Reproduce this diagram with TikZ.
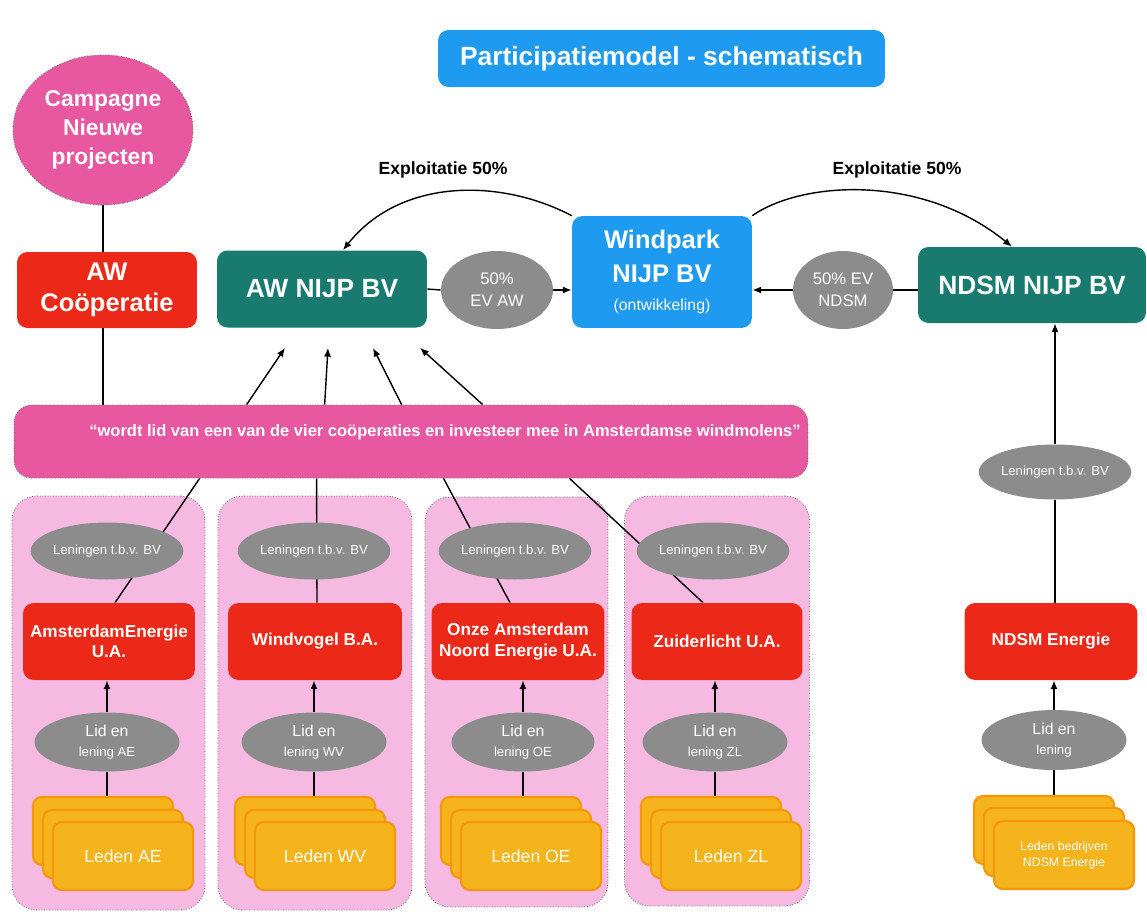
\documentclass[tikz,border=0pt]{standalone}
\usepackage{fontspec}
\setmainfont{Liberation Sans}
\usepackage{tikz}
\usetikzlibrary{arrows.meta}
\usetikzlibrary{calc}
\usetikzlibrary{positioning}
\usetikzlibrary{shapes.geometric}
\usetikzlibrary{backgrounds}

\definecolor{wpblue}{RGB}{30,155,240}
\definecolor{bvteal}{RGB}{25,122,112}
\definecolor{coopred}{RGB}{236,40,25}
\definecolor{campink}{RGB}{232,88,160}
\definecolor{colpink}{RGB}{246,186,226}
\definecolor{ovalgray}{RGB}{140,140,140}
\definecolor{cardfill}{RGB}{246,180,28}
\definecolor{cardedge}{RGB}{246,150,10}

\newcommand{\fs}[2]{\fontsize{#1}{#2}\selectfont}

\tikzset{
  box/.style={rectangle, rounded corners=6pt, text=white, align=center},
  ov/.style={ellipse, fill=ovalgray, text=white, align=center, inner sep=0pt},
  pinkdot/.style={draw=black!55, densely dotted, line width=0.5pt},
  card/.style={rectangle, rounded corners=5pt, fill=cardfill, draw=cardedge,
    line width=1.2pt, minimum width=2.8cm, minimum height=1.36cm,
    text=white, align=center},
  link/.style={line width=0.8pt},
  >={Latex[length=5pt,width=4pt]},
}

% three stacked cards, the front one carries the text
\newcommand{\ledenstapel}[4]{
  \node [card] (#1c) at (#2-20, #3-25) {};
  \node [card] (#1b) at (#2-10, #3-12) {};
  \node [card, font=\fs{10}{12}] (#1) at (#2, #3) {#4};
}

\begin{document}
\begin{tikzpicture}[x=0.02cm, y=-0.02cm]

  \useasboundingbox (0,0) rectangle (1147,917);

  \node [box, fill=wpblue, minimum width=8.94cm, minimum height=1.14cm,
    font=\bfseries\fs{15}{18}] (title) at (661.5,58.5)
    {Participatiemodel - schematisch};

  % top row
  \node [ellipse, pinkdot, fill=campink, text=white, align=center,
    minimum width=3.6cm, minimum height=3cm, inner sep=0pt,
    font=\bfseries\fs{13}{16.5}] (camp) at (103,130) {Campagne\\Nieuwe\\projecten};
  \node [box, fill=coopred, minimum width=3.6cm, minimum height=1.52cm,
    font=\bfseries\fs{14.5}{18}] (awcoop) at (107,290) {AW\\Coöperatie};
  \node [box, fill=bvteal, minimum width=4.2cm, minimum height=1.54cm,
    font=\bfseries\fs{15}{18}] (awbv) at (322,289) {AW NIJP BV};
  \node [ov, minimum width=2.24cm, minimum height=1.56cm,
    font=\fs{9.5}{12.5}] (evaw) at (497,290) {50\%\\EV AW};
  \node [box, fill=wpblue, minimum width=3.6cm, minimum height=2.24cm,
    font=\bfseries\fs{14.5}{19}] (wind) at (662,272)
    {Windpark\\NIJP BV\\[-3pt]{\mdseries\fs{9}{11}(ontwikkeling)}};
  \node [ov, minimum width=2cm, minimum height=1.56cm,
    font=\fs{9.5}{12.5}] (evnd) at (843,290) {50\% EV\\NDSM};
  \node [box, fill=bvteal, minimum width=4.56cm, minimum height=1.52cm,
    font=\bfseries\fs{15}{18}] (ndbv) at (1032,285) {NDSM NIJP BV};

  \node [font=\bfseries\fs{10}{12}] (expaw) at (443,170) {Exploitatie 50\%};
  \node [font=\bfseries\fs{10}{12}] (expnd) at (897,170) {Exploitatie 50\%};

  % bar
  \node [pinkdot, fill=campink, rounded corners=10pt, minimum width=15.88cm,
    minimum height=1.46cm] (bar) at (411,441.5) {};
  \node [text=white, font=\bfseries\fs{9.4}{11}] (bartxt) at (445,432)
    {``wordt lid van een van de vier coöperaties en investeer mee in Amsterdamse windmolens''};

  % columns
  \node [ov, minimum width=2.9cm, minimum height=1.14cm, font=\fs{7.5}{9}] (lnae) at (107,551) {Leningen t.b.v. BV};
  \node [box, fill=coopred, minimum width=3.44cm, minimum height=1.54cm,
    font=\bfseries\fs{9.8}{11.5}] (ae) at (109,641.5) {AmsterdamEnergie\\U.A.};
  \node [ov, minimum width=2.9cm, minimum height=1.18cm, font=\fs{9}{11}] (lidae) at (107,742) {Lid en\\{\fs{7.5}{9}lening AE}};
  \ledenstapel{ledae}{123}{856}{Leden AE}

  \node [ov, minimum width=2.9cm, minimum height=1.14cm, font=\fs{7.5}{9}] (lnwv) at (314,551) {Leningen t.b.v. BV};
  \node [box, fill=coopred, minimum width=3.48cm, minimum height=1.54cm,
    font=\bfseries\fs{9.8}{11.5}] (wv) at (315,641.5) {Windvogel B.A.};
  \node [ov, minimum width=2.9cm, minimum height=1.18cm, font=\fs{9}{11}] (lidwv) at (314,742) {Lid en\\{\fs{7.5}{9}lening WV}};
  \ledenstapel{ledwv}{325}{856}{Leden WV}

  \node [ov, minimum width=2.88cm, minimum height=1.14cm, font=\fs{7.5}{9}] (lnoe) at (515,551) {Leningen t.b.v. BV};
  \node [box, fill=coopred, minimum width=3.46cm, minimum height=1.54cm,
    font=\bfseries\fs{9.8}{11.5}] (oe) at (518,641.5) {Onze Amsterdam\\Noord Energie U.A.};
  \node [ov, minimum width=2.86cm, minimum height=1.18cm, font=\fs{9}{11}] (lidoe) at (523,742) {Lid en\\{\fs{7.5}{9}lening OE}};
  \ledenstapel{ledoe}{531}{856}{Leden OE}

  \node [ov, minimum width=2.8cm, minimum height=1.14cm, font=\fs{7.5}{9}] (lnzl) at (713,551) {Leningen t.b.v. BV};
  \node [box, fill=coopred, minimum width=3.42cm, minimum height=1.54cm,
    font=\bfseries\fs{9.8}{11.5}] (zl) at (717,641.5) {Zuiderlicht U.A.};
  \node [ov, minimum width=2.9cm, minimum height=1.18cm, font=\fs{9}{11}] (lidzl) at (715,742) {Lid en\\{\fs{7.5}{9}lening ZL}};
  \ledenstapel{ledzl}{731}{856}{Leden ZL}

  % right column
  \node [ov, minimum width=2.88cm, minimum height=1.1cm, font=\fs{7.5}{9}] (lnnd) at (1055,472) {Leningen t.b.v. BV};
  \node [box, fill=coopred, minimum width=3.46cm, minimum height=1.54cm,
    font=\bfseries\fs{9.8}{11.5}] (nde) at (1051,641.5) {NDSM Energie};
  \node [ov, minimum width=2.9cm, minimum height=1.2cm, font=\fs{9}{11}] (lidnd) at (1054,740) {Lid en\\{\fs{7.5}{9}lening}};
  \node [card] (lednd c) at (1044,830) {};
  \node [card] (lednd b) at (1054,842) {};
  \node [card, font=\fs{7}{9}] (lednd) at (1064,855) {Leden bedrijven\\NDSM Energie};

  \begin{pgfonlayer}{background}
    \node [pinkdot, fill=colpink, rounded corners=14pt, minimum width=3.86cm,
      minimum height=8.28cm] (colae) at (108.5,703) {};
    \node [pinkdot, fill=colpink, rounded corners=14pt, minimum width=3.88cm,
      minimum height=8.28cm] (colwv) at (315,703) {};
    \node [pinkdot, fill=colpink, rounded corners=14pt, minimum width=3.66cm,
      minimum height=8.2cm] (coloe) at (516.5,702) {};
    \node [pinkdot, fill=colpink, rounded corners=14pt, minimum width=3.7cm,
      minimum height=8.2cm] (colzl) at (717,701) {};

    \draw [link] (camp.south) -- (camp.south |- awcoop.north);
    \draw [link] (awcoop.south -| camp.south) -- (bar.north -| camp.south);

    \draw [link] (awbv.east) -- (evaw.west);
    \draw [link, ->] (evaw.east) -- (evaw.east -| wind.west);
    \draw [link] (evnd.east -| ndbv.west) -- (evnd.east);
    \draw [link, ->] (evnd.west) -- (evnd.west -| wind.east);

    \draw [link, ->] (wind.north west) .. controls (500,178) and (400,178)
      .. ([xshift=0.42cm]awbv.north);
    \draw [link, ->] (wind.north east) .. controls (800,182) and (920,172)
      .. ([xshift=-0.4cm]ndbv.north);

    \foreach \a/\b in {233/-37, 311/6, 388/51, 469/98}
      \draw [link, ->] ([xshift=\a*0.02cm]bar.north west)
        -- ([xshift=\b*0.02cm, yshift=-0.4cm]awbv.south);

    \draw [link] ([xshift=0.12cm]ae.north) -- ([xshift=3.72cm]bar.south west);
    \draw [link] ([xshift=0.04cm]wv.north) -- ([xshift=6.06cm]bar.south west);
    \draw [link] ([xshift=-0.16cm]oe.north) -- ([xshift=8.6cm]bar.south west);
    \draw [link] ([xshift=-0.28cm]zl.north) -- ([xshift=11.12cm]bar.south west);

    \foreach \n in {ae, wv, oe, zl} {
      \draw [link, ->] (lid\n.north) -- (lid\n.north |- \n.south);
      \draw [link] (lid\n.south) -- (lid\n.south |- led\n c.north);
    }

    \draw [link, ->] (lnnd.north) -- (lnnd.north |- ndbv.south);
    \draw [link] (lnnd.south) -- (lnnd.south |- nde.north);
    \draw [link, ->] (lidnd.north) -- (lidnd.north |- nde.south);
    \draw [link] (lidnd.south) -- (lidnd.south |- lednd c.north);
  \end{pgfonlayer}

\end{tikzpicture}
\end{document}
